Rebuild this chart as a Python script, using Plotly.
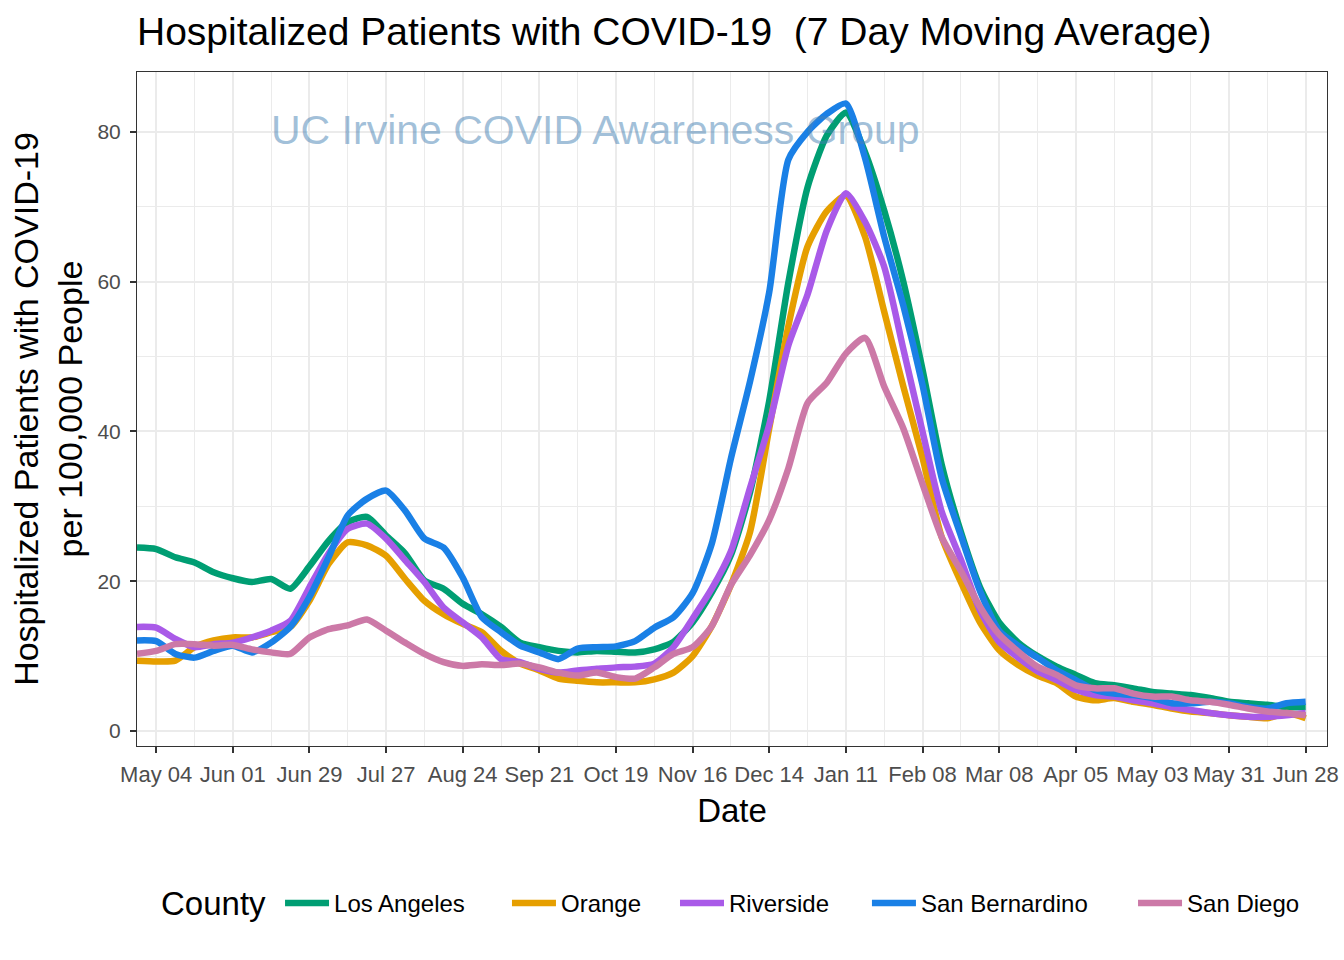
import plotly.graph_objects as go

dates = [
    "2020-04-27", "2020-05-04", "2020-05-11", "2020-05-18", "2020-05-25", "2020-06-01",
    "2020-06-08", "2020-06-15", "2020-06-22", "2020-06-29", "2020-07-06", "2020-07-13",
    "2020-07-20", "2020-07-27", "2020-08-03", "2020-08-10", "2020-08-17", "2020-08-24",
    "2020-08-31", "2020-09-07", "2020-09-14", "2020-09-21", "2020-09-28", "2020-10-05",
    "2020-10-12", "2020-10-19", "2020-10-26", "2020-11-02", "2020-11-09", "2020-11-16",
    "2020-11-23", "2020-11-30", "2020-12-07", "2020-12-14", "2020-12-21", "2020-12-28",
    "2021-01-04", "2021-01-11", "2021-01-18", "2021-01-25", "2021-02-01", "2021-02-08",
    "2021-02-15", "2021-02-22", "2021-03-01", "2021-03-08", "2021-03-15", "2021-03-22",
    "2021-03-29", "2021-04-05", "2021-04-12", "2021-04-19", "2021-04-26", "2021-05-03",
    "2021-05-10", "2021-05-17", "2021-05-24", "2021-05-31", "2021-06-07", "2021-06-14",
    "2021-06-21", "2021-06-28",
]

los_angeles = [
    24.5, 24.3, 23.2, 22.5, 21.2, 20.4, 19.9, 20.3, 19.0, 22.0, 25.4, 27.9,
    28.6, 26.1, 23.7, 20.1, 19.0, 17.0, 15.6, 13.9, 11.8, 11.2, 10.7, 10.5,
    10.7, 10.6, 10.5, 10.9, 11.9, 14.5, 18.5, 23.5, 31.9, 44.1, 59.9, 72.6,
    79.5, 82.6, 77.3, 69.5, 60.0, 48.3, 35.6, 26.6, 19.2, 14.5, 11.8, 10.0,
    8.6, 7.5, 6.4, 6.1, 5.7, 5.2, 5.0, 4.8, 4.4, 3.9, 3.7, 3.5,
    3.2, 3.2,
]
orange = [
    9.4, 9.3, 9.4, 11.2, 12.1, 12.5, 12.5, 13.2, 13.9, 17.4, 22.3, 25.2,
    24.8, 23.4, 20.3, 17.4, 15.6, 14.3, 13.2, 10.7, 9.0, 8.1, 7.0, 6.7,
    6.5, 6.5, 6.5, 6.9, 7.8, 10.0, 14.0, 19.5, 26.6, 40.4, 54.1, 64.7,
    69.4, 71.5, 66.0, 56.0, 46.0, 36.5, 25.9, 19.9, 14.5, 10.8, 8.8, 7.4,
    6.4, 4.6, 4.1, 4.4, 3.9, 3.5, 3.0, 2.6, 2.4, 2.1, 1.9, 1.7,
    2.4, 1.7,
]
riverside = [
    13.9, 13.8, 12.3, 11.2, 11.6, 11.8, 12.5, 13.4, 14.7, 19.2, 23.7, 27.0,
    27.7, 25.7, 22.8, 19.9, 16.5, 14.5, 12.5, 9.6, 9.2, 8.3, 7.8, 8.1,
    8.3, 8.5, 8.6, 9.0, 11.2, 15.0, 19.0, 24.0, 32.5, 40.9, 51.5, 58.3,
    66.8, 71.8, 68.0, 62.0, 51.0, 40.0, 29.3, 22.9, 16.1, 11.9, 9.8, 8.0,
    6.8, 5.5, 4.8, 4.6, 4.1, 3.7, 3.2, 2.8, 2.4, 2.1, 1.9, 1.9,
    2.1, 2.4,
]
san_bernardino = [
    12.1, 12.0, 10.3, 9.8, 10.7, 11.4, 10.5, 11.8, 13.9, 17.9, 23.2, 28.8,
    31.0, 32.1, 29.4, 25.7, 24.5, 20.5, 15.2, 13.2, 11.4, 10.5, 9.6, 11.0,
    11.2, 11.3, 12.0, 13.8, 15.2, 18.4, 25.0, 36.4, 46.7, 58.6, 76.3, 80.0,
    82.4, 83.8, 76.5, 66.0, 56.8, 46.2, 33.8, 26.1, 18.7, 13.4, 11.4, 9.8,
    8.1, 6.8, 5.5, 5.0, 4.8, 4.4, 3.7, 3.7, 3.9, 3.7, 3.2, 3.0,
    3.7, 3.9,
]
san_diego = [
    10.3, 10.7, 11.6, 11.6, 11.4, 11.5, 10.9, 10.5, 10.3, 12.5, 13.6, 14.1,
    14.9, 13.4, 11.8, 10.3, 9.2, 8.7, 8.9, 8.8, 9.0, 8.5, 7.8, 7.4,
    7.8, 7.2, 7.0, 8.5, 10.3, 11.2, 14.0, 19.5, 23.5, 28.2, 35.1, 43.8,
    46.5, 50.4, 52.5, 46.0, 40.4, 33.0, 25.9, 21.4, 16.6, 12.9, 10.6, 8.6,
    7.5, 6.1, 5.7, 5.7, 5.0, 4.6, 4.6, 4.1, 3.9, 3.5, 3.0, 2.6,
    2.4, 2.1,
]

counties = ["Los Angeles", "Orange", "Riverside", "San Bernardino", "San Diego"]
series = [los_angeles, orange, riverside, san_bernardino, san_diego]
colors = ["#009E73", "#E69F00", "#A95AE8", "#1A80E6", "#CC79A7"]

tick_dates = [
    "2020-05-04", "2020-06-01", "2020-06-29", "2020-07-27", "2020-08-24", "2020-09-21",
    "2020-10-19", "2020-11-16", "2020-12-14", "2021-01-11", "2021-02-08", "2021-03-08",
    "2021-04-05", "2021-05-03", "2021-05-31", "2021-06-28",
]
tick_labels = [
    "May 04", "Jun 01", "Jun 29", "Jul 27", "Aug 24", "Sep 21", "Oct 19", "Nov 16",
    "Dec 14", "Jan 11", "Feb 08", "Mar 08", "Apr 05", "May 03", "May 31", "Jun 28",
]
y_ticks = [0, 20, 40, 60, 80]

FONT = "Liberation Sans, Arial, Helvetica, sans-serif"

# one legend box per county so that the entries can be spaced like the original
legend_ids = ["legend", "legend2", "legend3", "legend4", "legend5"]
legend_x = [0.1202, 0.3109, 0.4521, 0.6134, 0.8370]

fig = go.Figure()
for name, vals, col, lid in zip(counties, series, colors, legend_ids):
    fig.add_trace(go.Scatter(
        x=dates, y=vals, name=name, mode="lines", legend=lid,
        line=dict(color=col, width=6.5, shape="spline", smoothing=0.6),
    ))

fig.add_annotation(
    text="UC Irvine COVID Awareness Group",
    xref="paper", yref="paper", x=0.385, y=0.914,
    xanchor="center", yanchor="middle", showarrow=False,
    font=dict(family=FONT, size=41, color="rgba(70,130,180,0.5)"),
)
fig.add_annotation(
    text="County",
    xref="paper", yref="paper", x=0.0185, y=-0.2344,
    xanchor="left", yanchor="middle", showarrow=False,
    font=dict(family=FONT, size=33, color="black"),
)

legends = {}
for lid, lx in zip(legend_ids, legend_x):
    legends[lid] = dict(
        orientation="h", x=lx, xanchor="left", y=-0.2335, yanchor="middle",
        font=dict(size=24), itemwidth=44, bgcolor="rgba(0,0,0,0)",
    )

fig.update_layout(
    width=1344, height=960,
    margin=dict(l=137, r=17, t=72, b=214, autoexpand=False),
    paper_bgcolor="white", plot_bgcolor="white",
    font=dict(family=FONT, color="black"),
    title=dict(
        text="Hospitalized Patients with COVID-19  (7 Day Moving Average)",
        x=137 / 1344, xanchor="left", xref="container",
        y=1 - 31 / 960, yanchor="middle", yref="container",
        font=dict(size=39, color="black"),
    ),
    showlegend=True,
    **legends,
)

fig.update_xaxes(
    type="date", automargin=False,
    range=["2020-04-27", "2021-07-05 19:00"],
    tickvals=tick_dates, ticktext=tick_labels, tickangle=0,
    tickfont=dict(size=22, color="#4D4D4D"),
    ticks="outside", ticklen=6, tickwidth=2, tickcolor="#333333",
    ticklabelstandoff=3,
    showgrid=True, gridcolor="#EBEBEB", gridwidth=2,
    minor=dict(dtick=14 * 86400000, tick0="2020-05-18", showgrid=True,
               gridcolor="#EBEBEB", gridwidth=1, ticks=""),
    showline=True, linecolor="#333333", linewidth=1, mirror=True,
    zeroline=False,
    title=dict(text="Date", font=dict(size=33, color="black"), standoff=12),
)
fig.update_yaxes(
    automargin=False,
    range=[-2.0, 88.0],
    tickvals=y_ticks,
    tickfont=dict(size=21, color="#4D4D4D"),
    ticks="outside", ticklen=6, tickwidth=2, tickcolor="#333333",
    ticklabelstandoff=5,
    showgrid=True, gridcolor="#EBEBEB", gridwidth=2,
    minor=dict(dtick=10, tick0=0, showgrid=True, gridcolor="#EBEBEB", gridwidth=1, ticks=""),
    showline=True, linecolor="#333333", linewidth=1, mirror=True,
    zeroline=False,
    title=dict(text="Hospitalized Patients with COVID-19<br>per 100,000 People",
               font=dict(size=34, color="black"), standoff=4),
)

fig.write_html("out.html")
